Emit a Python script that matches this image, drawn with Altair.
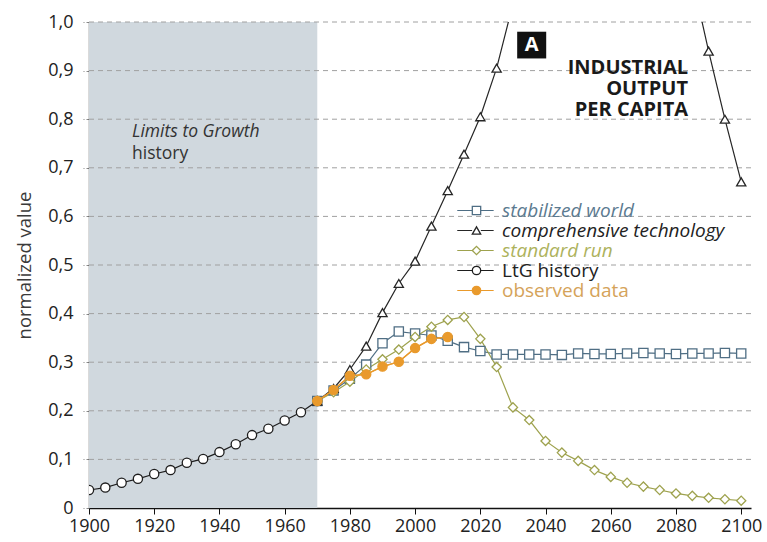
import altair as alt
import pandas as pd

# ---- data -------------------------------------------------------------
series_names = ["stabilized world", "comprehensive technology", "standard run",
                "LtG history", "observed data"]

hist_years = list(range(1900, 1975, 5))
hist_values = [0.037, 0.042, 0.052, 0.060, 0.070, 0.078, 0.093, 0.101, 0.115,
               0.131, 0.150, 0.163, 0.180, 0.197, 0.220]

scen_years = list(range(1970, 2105, 5))
stabilized_values = [0.220, 0.242, 0.266, 0.295, 0.339, 0.363, 0.359, 0.355, 0.344,
                     0.331, 0.323, 0.316, 0.316, 0.316, 0.316, 0.315, 0.318, 0.317,
                     0.317, 0.318, 0.319, 0.318, 0.317, 0.318, 0.318, 0.319, 0.318]
standard_values = [0.220, 0.238, 0.260, 0.285, 0.306, 0.326, 0.352, 0.373, 0.387,
                   0.393, 0.348, 0.290, 0.207, 0.181, 0.138, 0.114, 0.097, 0.078,
                   0.064, 0.052, 0.044, 0.037, 0.030, 0.025, 0.021, 0.018, 0.015]

# comprehensive technology leaves the 0..1 range between 2030 and 2085
tech_years = [1970, 1975, 1980, 1985, 1990, 1995, 2000, 2005, 2010, 2015, 2020,
              2025, 2030, 2085, 2090, 2095, 2100]
tech_values = [0.220, 0.246, 0.285, 0.333, 0.402, 0.462, 0.508, 0.580, 0.653,
               0.728, 0.805, 0.905, 1.037, 1.090, 0.940, 0.800, 0.671]

obs_years = list(range(1970, 2015, 5))
obs_values = [0.220, 0.243, 0.272, 0.275, 0.291, 0.301, 0.329, 0.348, 0.352]

y_ticks = [0.0, 0.1, 0.2, 0.3, 0.4, 0.5, 0.6, 0.7, 0.8, 0.9, 1.0]
x_ticks = list(range(1900, 2101, 20))

stroke_colors = ["#4f6e84", "#262626", "#9ea24e", "#1e1e1e", "#e99a2c"]
fill_colors = ["#ffffff", "#ffffff", "#ffffff", "#ffffff", "#e99a2c"]
shapes = ["square", "triangle-up", "diamond", "circle", "circle"]

frames = [
    pd.DataFrame({"year": scen_years, "value": stabilized_values, "series": series_names[0]}),
    pd.DataFrame({"year": tech_years, "value": tech_values, "series": series_names[1]}),
    pd.DataFrame({"year": scen_years, "value": standard_values, "series": series_names[2]}),
    pd.DataFrame({"year": hist_years, "value": hist_values, "series": series_names[3]}),
    pd.DataFrame({"year": obs_years, "value": obs_values, "series": series_names[4]}),
]
order_map = {"LtG history": 0, "stabilized world": 1, "standard run": 2,
             "comprehensive technology": 3, "observed data": 4}
df = pd.concat(frames, ignore_index=True)
df["draw"] = df["series"].map(order_map)
# numeric key per series, used for the line colour scale (keeps its legend separate)
df["key"] = df["series"].map({name: i for i, name in enumerate(series_names)})

FONT = "Open Sans"

x_scale = alt.Scale(domain=[1900, 2103], nice=False, zero=False)
y_scale = alt.Scale(domain=[0, 1], nice=False)

x_axis = alt.Axis(values=x_ticks, format="d", grid=False, title=None,
                  domainColor="#111", domainWidth=1.3, tickColor="#111",
                  tickSize=6, labelFont=FONT, labelFontSize=18, labelColor="#222",
                  labelPadding=3, labelFlush=False, labelOverlap=False)
y_axis = alt.Axis(values=y_ticks, grid=False, title="normalized value",
                  labelExpr="datum.value == 0 ? '0' : replace(format(datum.value, '.1f'), '.', ',')",
                  domainColor="#111", domainWidth=1.3, tickColor="#888",
                  tickSize=6, tickDash=[3, 2], labelFont=FONT, labelFontSize=18,
                  labelColor="#222", labelPadding=10, labelFlush=False,
                  labelOverlap=False, titleFont=FONT,
                  titleFontSize=18.5, titleFontWeight="normal", titleColor="#3a3a3a",
                  titlePadding=13)

# shaded "history" period
shade_df = pd.DataFrame({"start": [1900], "end": [1970]})
shade = alt.Chart(shade_df).mark_rect(color="#d0d8de").encode(
    x=alt.X("start:Q", scale=x_scale, axis=x_axis),
    x2="end:Q",
    y=alt.datum(0, scale=y_scale, axis=y_axis),
    y2=alt.datum(1),
)

# dashed horizontal gridlines
grid_df = pd.DataFrame({"v": y_ticks[1:]})
grid = alt.Chart(grid_df).mark_rule(color="#a0a0a0", strokeWidth=1,
                                     strokeDash=[5, 4]).encode(
    y=alt.Y("v:Q", scale=y_scale)
)

LEG_X = 378
LEG_Y = 179
LEG_FONT = 19
LEG_ROWPAD = 0
LEG_SYMBOL = 70
label_colors = alt.ExprRef(
    "datum.label == 'stabilized world' ? '#5b7a90' : "
    "datum.label == 'standard run' ? '#adb25c' : "
    "datum.label == 'observed data' ? '#d5a35a' : '#222222'")
label_styles = alt.ExprRef(
    "datum.label == 'observed data' || datum.label == 'LtG history' ? 'normal' : 'italic'")

# line stubs of the legend keys (no labels; the marker legend sits on top)
line_legend = alt.Legend(
    title=None, orient="none", legendX=LEG_X, legendY=LEG_Y, padding=0,
    labelFont=FONT, labelFontSize=LEG_FONT, labelExpr="''", labelLimit=400,
    labelOffset=16, rowPadding=LEG_ROWPAD, symbolType="M-4.6,0H-1.05M1.05,0H4.1",
    symbolSize=LEG_SYMBOL, symbolStrokeWidth=1.2, symbolOpacity=1,
)
# marker keys and labels
marker_legend = alt.Legend(
    title=None, orient="none", legendX=LEG_X, legendY=LEG_Y, padding=0,
    labelFont=FONT, labelFontSize=LEG_FONT, labelOffset=16, labelLimit=400,
    rowPadding=LEG_ROWPAD, symbolSize=LEG_SYMBOL, symbolStrokeWidth=1.3,
    symbolOpacity=1, labelColor=label_colors, labelFontStyle=label_styles,
)

lines = alt.Chart(df).mark_line(strokeWidth=1.2, clip=True).encode(
    x=alt.X("year:Q", scale=x_scale),
    y=alt.Y("value:Q", scale=y_scale),
    color=alt.Color("key:N",
                    scale=alt.Scale(domain=list(range(len(series_names))),
                                    range=stroke_colors),
                    legend=line_legend),
    detail="series:N",
    order="year:Q",
)

points = alt.Chart(df).mark_point(size=85, strokeWidth=1.3, opacity=1,
                                  fillOpacity=1, clip=True).encode(
    x=alt.X("year:Q", scale=x_scale),
    y=alt.Y("value:Q", scale=y_scale),
    stroke=alt.Stroke("series:N",
                      scale=alt.Scale(domain=series_names, range=stroke_colors),
                      legend=marker_legend),
    fill=alt.Fill("series:N",
                  scale=alt.Scale(domain=series_names, range=fill_colors),
                  legend=marker_legend),
    shape=alt.Shape("series:N",
                    scale=alt.Scale(domain=series_names, range=shapes),
                    legend=marker_legend),
    order="draw:Q",
)

# observed data drawn last so it sits on top
obs_df = df[df["series"] == "observed data"]
obs_line = alt.Chart(obs_df).mark_line(strokeWidth=1.4, color="#e99a2c").encode(
    x=alt.X("year:Q", scale=x_scale),
    y=alt.Y("value:Q", scale=y_scale),
)

# annotations
label_df = pd.DataFrame({"x": [1913.2], "y": [0.773], "t": ["Limits to Growth"]})
limits_text = alt.Chart(label_df).mark_text(
    align="left", baseline="middle", font=FONT, fontSize=17.5, fontStyle="italic",
    color="#333").encode(x=alt.X("x:Q", scale=x_scale), y=alt.Y("y:Q", scale=y_scale), text="t:N")
hist_df = pd.DataFrame({"x": [1913.2], "y": [0.729], "t": ["history"]})
hist_text = alt.Chart(hist_df).mark_text(
    align="left", baseline="middle", font=FONT, fontSize=17.5, color="#333").encode(
    x=alt.X("x:Q", scale=x_scale), y=alt.Y("y:Q", scale=y_scale), text="t:N")

box_df = pd.DataFrame({"x": [2031.3], "x2": [2040.2], "y": [0.925], "y2": [0.980]})
badge = alt.Chart(box_df).mark_rect(color="#111").encode(
    x=alt.X("x:Q", scale=x_scale), x2="x2:Q",
    y=alt.Y("y:Q", scale=y_scale), y2="y2:Q")
badge_df = pd.DataFrame({"x": [2035.75], "y": [0.952], "t": ["A"]})
badge_text = alt.Chart(badge_df).mark_text(
    align="center", baseline="middle", font=FONT, fontSize=20, fontWeight="bold",
    color="white").encode(x=alt.X("x:Q", scale=x_scale), y=alt.Y("y:Q", scale=y_scale), text="t:N")

title_df = pd.DataFrame({"x": [2083.7], "y": [0.905],
                         "t": [["INDUSTRIAL", "OUTPUT", "PER CAPITA"]]})
title_text = alt.Chart(title_df).mark_text(
    align="right", baseline="middle", font=FONT, fontSize=20, fontWeight="bold",
    lineHeight=21, color="#1a1a1a").encode(
    x=alt.X("x:Q", scale=x_scale), y=alt.Y("y:Q", scale=y_scale), text="t")

chart = alt.layer(
    shade, grid, lines, points, obs_line, limits_text, hist_text, badge,
    badge_text, title_text
).properties(
    width=662, height=486,
    autosize=alt.AutoSizeParams(type="none"),
    padding={"left": 89, "top": 22, "right": 16, "bottom": 34},
    background="white",
).configure_view(stroke=None)

chart.save("out.html", embed_options={"renderer": "svg", "actions": False})
